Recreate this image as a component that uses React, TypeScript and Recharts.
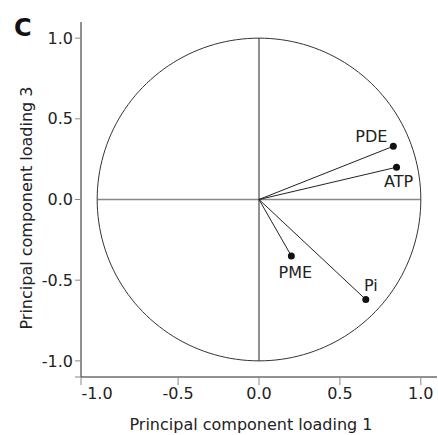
import { ScatterChart, Scatter, XAxis, YAxis, ReferenceLine, Label } from "recharts";

// Cargas de cada variable sobre las componentes principales 1 y 3
const variables = ["PDE", "ATP", "PME", "Pi"];
const loading1 = [0.83, 0.85, 0.2, 0.66];
const loading3 = [0.33, 0.2, -0.35, -0.62];

// Eje X: la marca de -1.0 cae en el arranque del eje, como en el original
const xTicks = [-1.1, -0.5, 0, 0.5, 1];
const xTickLabels = ["-1.0", "-0.5", "0.0", "0.5", "1.0"];
const yTicks = [-1.1, -1, -0.5, 0, 0.5, 1];
const yTickLabels = ["", "-1.0", "-0.5", "0.0", "0.5", "1.0"];

const panelLetter = "C";
const xTitle = "Principal component loading 1";
const yTitle = "Principal component loading 3";

// Círculo unidad de referencia (no son datos, es la figura de correlación)
const unitCircle = Array.from({ length: 181 }, (_, i) => {
  const a = (i * 2 * Math.PI) / 180;
  return { x: Math.cos(a), y: Math.sin(a) };
});

const puntos = variables.map((name, i) => ({ name, x: loading1[i], y: loading3[i] }));

// Desplazamiento de cada etiqueta respecto de su punto
const LABEL_OFFSET: Record<string, [number, number]> = {
  PDE: [-22, -10],
  ATP: [2, 14],
  PME: [4, 17],
  Pi: [5, -14],
};

const FONT = "DejaVu Sans, Verdana, sans-serif";
const FS = 16;
const TEXT = "#222";

function PuntoCarga(props: any) {
  const { cx, cy, payload } = props;
  const [dx, dy] = LABEL_OFFSET[payload.name] ?? [0, 0];
  return (
    <g>
      <circle cx={cx} cy={cy} r={3.5} fill="#111" />
      <text
        x={cx + dx}
        y={cy + dy}
        textAnchor="middle"
        dominantBaseline="central"
        fontFamily={FONT}
        fontSize={FS}
        fill={TEXT}
      >
        {payload.name}
      </text>
    </g>
  );
}

function XTick(props: any) {
  const { x, y, payload } = props;
  const i = xTicks.indexOf(payload.value);
  return (
    <text
      x={x + (i === 0 ? 16 : 0)}
      y={y + 12}
      textAnchor="middle"
      fontFamily={FONT}
      fontSize={FS}
      fill={TEXT}
    >
      {xTickLabels[i] ?? ""}
    </text>
  );
}

export default function App() {
  return (
    <div style={{ position: "absolute", left: 0, top: 0, width: 438, height: 435, background: "#fff" }}>
      <svg width={438} height={435} style={{ position: "absolute", left: 0, top: 0, pointerEvents: "none" }}>
        <text x={14} y={36} fontFamily={FONT} fontWeight="bold" fontSize={24} fill="#111">
          {panelLetter}
        </text>
      </svg>
      <ScatterChart width={438} height={435} margin={{ top: 22, right: 1, bottom: 0, left: 21 }}>
        <XAxis
          type="number"
          dataKey="x"
          domain={[-1.1, 1.1]}
          ticks={xTicks}
          interval={0}
          height={58}
          tickSize={8}
          axisLine={{ stroke: "#222" }}
          tickLine={{ stroke: "#888" }}
          tick={<XTick />}
        >
          <Label
            content={(p: any) => {
              const vb = p.viewBox;
              return (
                <text
                  x={vb.x + vb.width / 2 - 8}
                  y={430}
                  textAnchor="middle"
                  fontFamily={FONT}
                  fontSize={FS}
                  fill={TEXT}
                >
                  {xTitle}
                </text>
              );
            }}
          />
        </XAxis>
        <YAxis
          type="number"
          dataKey="y"
          domain={[-1.1, 1.1]}
          ticks={yTicks}
          interval={0}
          width={60}
          tickSize={6}
          axisLine={{ stroke: "#222" }}
          tickLine={{ stroke: "#888" }}
          tick={{ fontFamily: FONT, fontSize: FS, fill: TEXT }}
          tickFormatter={(v: number) => yTickLabels[yTicks.indexOf(v)] ?? ""}
        >
          <Label
            content={() => (
              <text
                x={32}
                y={208}
                transform="rotate(-90, 32, 208)"
                textAnchor="middle"
                fontFamily={FONT}
                fontSize={FS}
                fill={TEXT}
              >
                {yTitle}
              </text>
            )}
          />
        </YAxis>
        <ReferenceLine segment={[{ x: -1, y: 0 }, { x: 1, y: 0 }]} stroke="#888" strokeWidth={1.5} />
        <ReferenceLine segment={[{ x: 0, y: -1 }, { x: 0, y: 1 }]} stroke="#222" strokeWidth={1} />
        {puntos.map((p) => (
          <ReferenceLine
            key={p.name}
            segment={[{ x: 0, y: 0 }, { x: p.x, y: p.y }]}
            stroke="#222"
            strokeWidth={1}
          />
        ))}
        <Scatter
          data={unitCircle}
          isAnimationActive={false}
          line={{ stroke: "#333", strokeWidth: 1 }}
          lineType="joint"
          shape={() => <g />}
        />
        <Scatter data={puntos} isAnimationActive={false} shape={<PuntoCarga />} />
      </ScatterChart>
    </div>
  );
}
